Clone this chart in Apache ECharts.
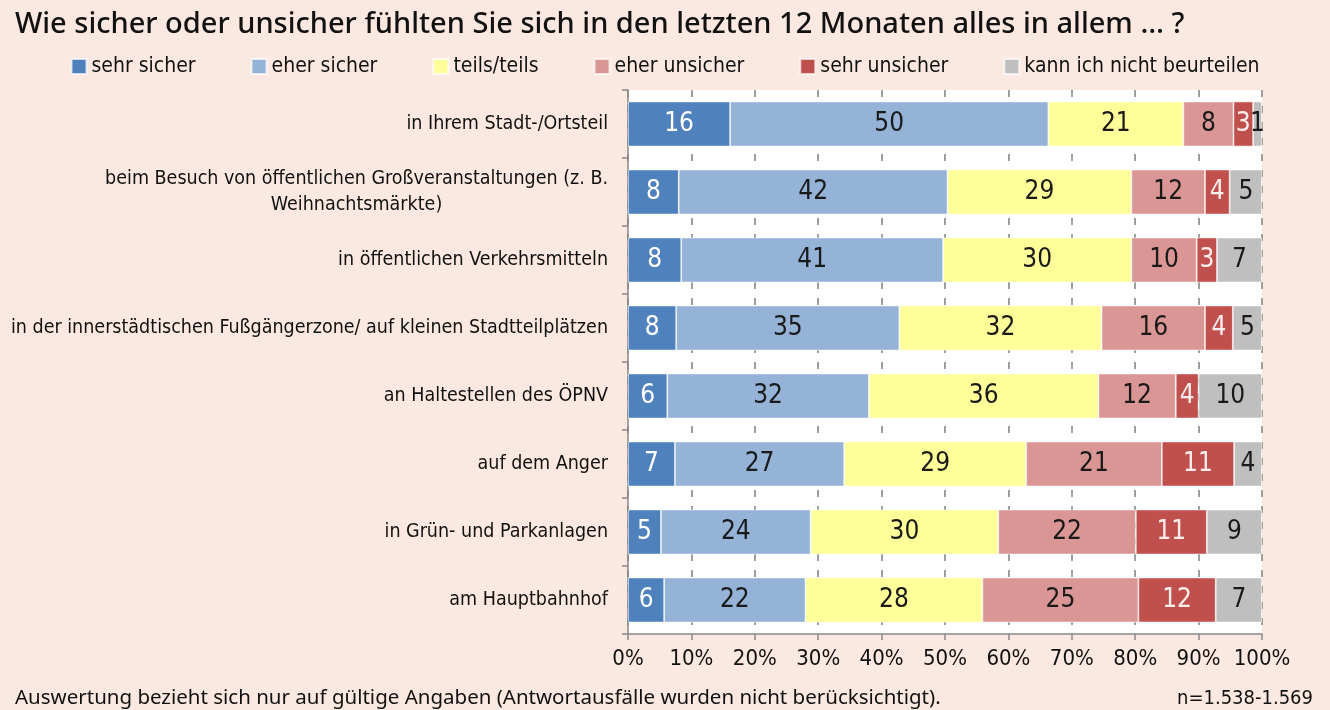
<!DOCTYPE html>
<html>
<head>
<meta charset="utf-8">
<script src="https://cdn.jsdelivr.net/npm/echarts@6/dist/echarts.min.js"></script>
<style>
  html, body { margin: 0; padding: 0; background: #fbe8e0; }
  #chart { width: 1330px; height: 710px; }
</style>
</head>
<body>
<div id="chart"></div>
<script>
// Kategorien (von oben nach unten)
const categories = [
  'in Ihrem Stadt-/Ortsteil',
  'beim Besuch von öffentlichen Großveranstaltungen (z. B.\nWeihnachtsmärkte)',
  'in öffentlichen Verkehrsmitteln',
  'in der innerstädtischen Fußgängerzone/ auf kleinen Stadtteilplätzen',
  'an Haltestellen des ÖPNV',
  'auf dem Anger',
  'in Grün- und Parkanlagen',
  'am Hauptbahnhof'
]

// Anteile in %
const sehrSicher = [16.1, 8.0, 8.4, 7.6, 6.2, 7.4, 5.2, 5.7]
const eherSicher = [50.2, 42.4, 41.3, 35.2, 31.8, 26.7, 23.6, 22.3]
const teilsTeils = [21.3, 29.0, 29.7, 31.9, 36.2, 28.7, 29.6, 27.9]
const eherUnsicher = [7.9, 11.6, 10.3, 16.3, 12.2, 21.4, 21.7, 24.6]
const sehrUnsicher = [3.1, 3.9, 3.2, 4.4, 3.6, 11.4, 11.2, 12.2]
const nichtBeurteilen = [1.4, 5.1, 7.1, 4.6, 10.0, 4.4, 8.7, 7.3]

const xTicks = [0, 10, 20, 30, 40, 50, 60, 70, 80, 90, 100]

const seriesDefs = [
  { name: 'sehr sicher', data: sehrSicher, color: '#4f81bd', text: '#ffffff' },
  { name: 'eher sicher', data: eherSicher, color: '#95b3d7', text: '#1a1a1a' },
  { name: 'teils/teils', data: teilsTeils, color: '#ffff99', text: '#1a1a1a' },
  { name: 'eher unsicher', data: eherUnsicher, color: '#da9694', text: '#1a1a1a' },
  { name: 'sehr unsicher', data: sehrUnsicher, color: '#c0504d', text: '#fdeeee' },
  { name: 'kann ich nicht beurteilen', data: nichtBeurteilen, color: '#bfbfbf', text: '#1a1a1a' }
]

const narrow = '"DejaVu Sans Condensed", "Liberation Sans Narrow", "Roboto Condensed", sans-serif'
const regular = '"Noto Sans", "Open Sans", sans-serif'

const chart = echarts.init(document.getElementById('chart'))

const option = {
  backgroundColor: '#fbe8e0',
  animation: false,
  title: [
    {
      text: 'Wie sicher oder unsicher fühlten Sie sich in den letzten 12 Monaten alles in allem … ?',
      left: 10,
      top: 5,
      textStyle: { fontFamily: regular, fontSize: 29, fontWeight: 500, color: '#111' }
    },
    {
      text: 'Auswertung bezieht sich nur auf gültige Angaben (Antwortausfälle wurden nicht berücksichtigt).',
      left: 10,
      top: 683,
      textStyle: { fontFamily: regular, fontSize: 20.5, fontWeight: 400, color: '#111' }
    },
    {
      text: 'n=1.538-1.569',
      right: 12,
      top: 684,
      textStyle: { fontFamily: narrow, fontSize: 20, fontWeight: 400, color: '#111' }
    }
  ],
  legend: {
    top: 51,
    left: 'center',
    itemWidth: 15,
    itemHeight: 15,
    itemGap: 55,
    icon: 'rect',
    textStyle: { fontFamily: narrow, fontSize: 21, color: '#111' },
    data: seriesDefs.map(s => s.name)
  },
  grid: {
    left: 628,
    right: 68,
    top: 90,
    bottom: 76,
    outerBoundsMode: 'none',
    containLabel: false,
    show: true,
    backgroundColor: '#ffffff',
    borderWidth: 0
  },
  xAxis: {
    type: 'value',
    min: 0,
    max: 100,
    interval: 10,
    axisLine: { show: true, lineStyle: { color: '#888', width: 1.5 } },
    axisTick: { show: true, length: 6, lineStyle: { color: '#888', width: 1.5 } },
    axisLabel: {
      fontFamily: narrow,
      fontSize: 22,
      color: '#111',
      margin: 14,
      formatter: v => (xTicks.includes(v) ? v + '%' : '')
    },
    splitLine: { show: true, lineStyle: { color: '#808080', type: [7, 9], width: 1.5 } }
  },
  yAxis: {
    type: 'category',
    inverse: true,
    data: categories,
    axisLine: { show: true, lineStyle: { color: '#888', width: 1.5 } },
    axisTick: { show: true, length: 6, lineStyle: { color: '#888', width: 1.5 } },
    axisLabel: {
      fontFamily: narrow,
      fontSize: 19.5,
      color: '#111',
      margin: 20,
      lineHeight: 26,
      formatter: v => v.split('\n').map(l => '{c|' + l + '}').join('\n'),
      rich: {
        c: { align: 'center', fontFamily: narrow, fontSize: 19.5, color: '#111', lineHeight: 26 }
      }
    }
  },
  series: seriesDefs.map(s => ({
    name: s.name,
    type: 'bar',
    stack: 'total',
    barWidth: 45,
    data: s.data,
    itemStyle: { color: s.color, borderColor: 'rgba(255,255,255,0.7)', borderWidth: 0.8 },
    label: {
      show: true,
      position: 'inside',
      color: s.text,
      fontFamily: narrow,
      fontSize: 26,
      formatter: p => Math.round(p.value)
    }
  }))
}

chart.setOption(option)
</script>
</body>
</html>
